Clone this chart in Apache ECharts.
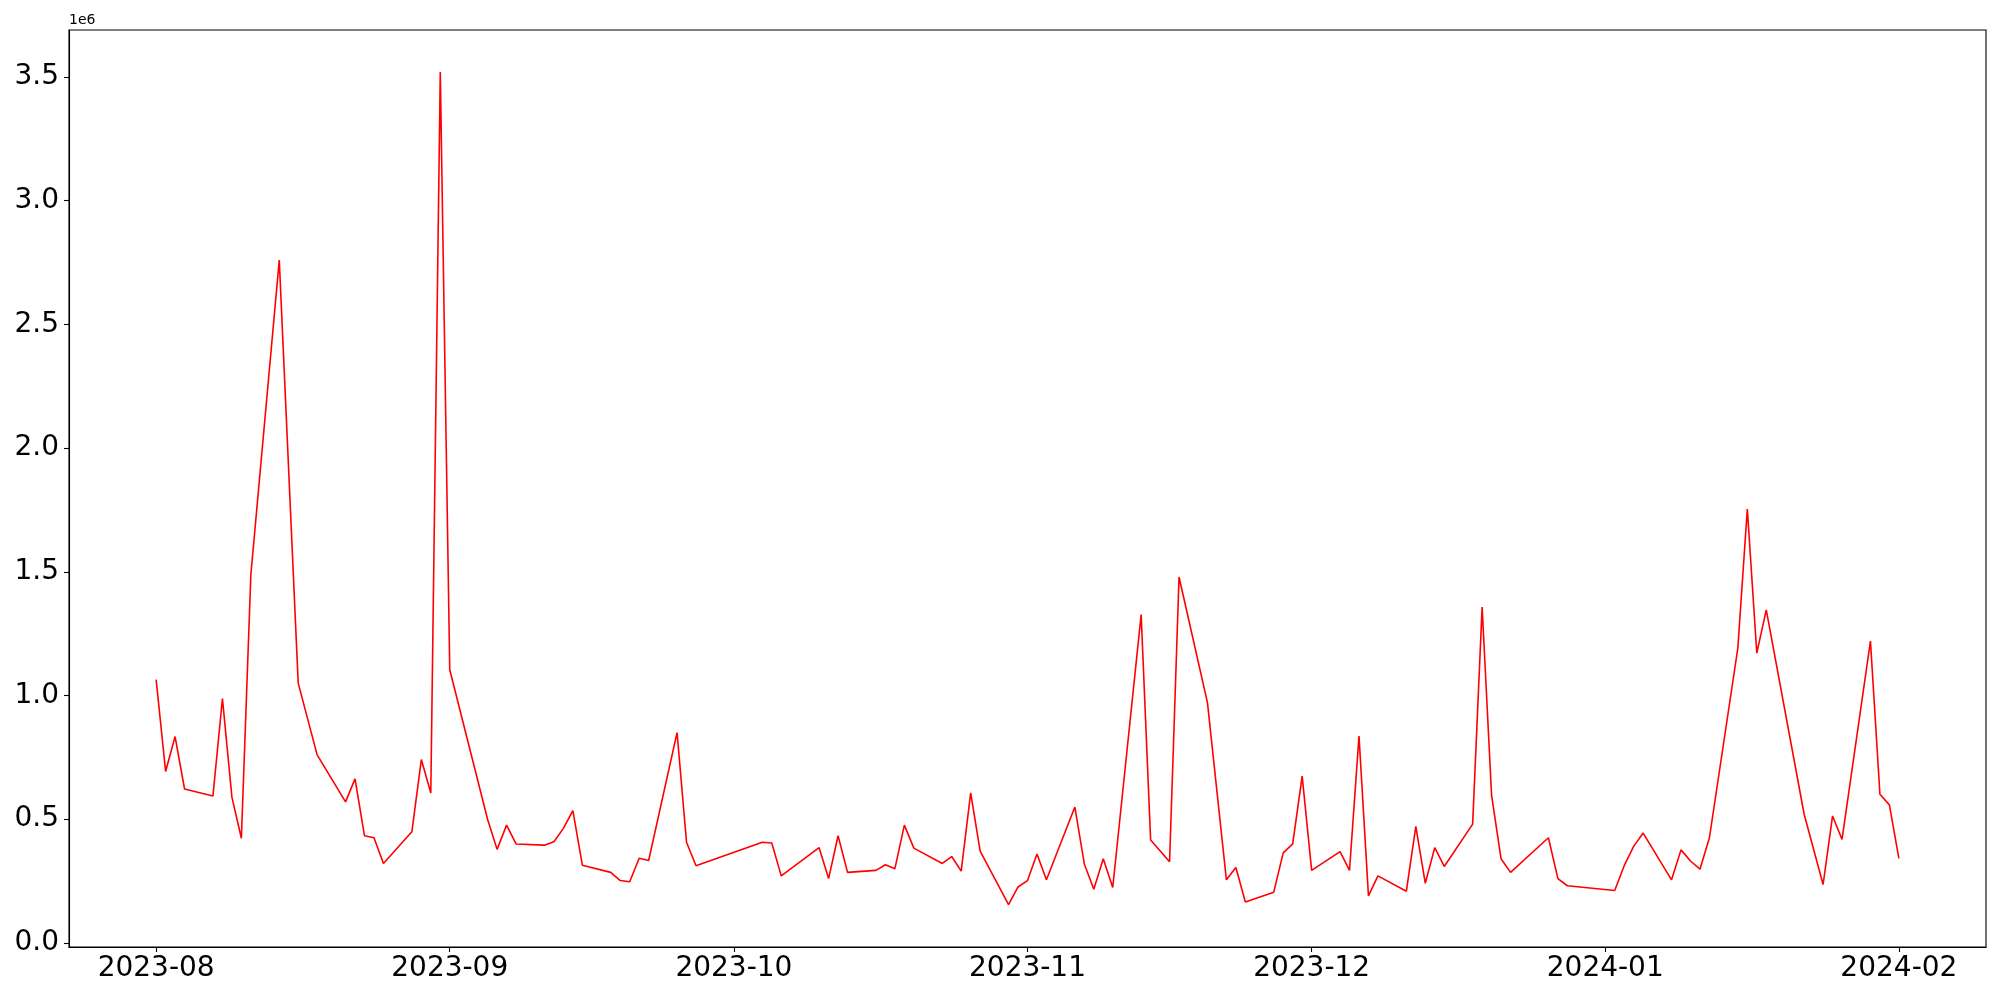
<!DOCTYPE html>
<html>
<head>
<meta charset="utf-8">
<script src="https://cdn.jsdelivr.net/npm/echarts@6/dist/echarts.min.js"></script>
<style>
html,body{margin:0;padding:0;background:#fff;}
#chart{width:2000px;height:1000px;}
</style>
</head>
<body>
<div id="chart"></div>
<script>
const dates = [
  '2023-08-01','2023-08-02','2023-08-03','2023-08-04','2023-08-07','2023-08-08','2023-08-09','2023-08-10','2023-08-11','2023-08-14',
  '2023-08-16','2023-08-18','2023-08-21','2023-08-22','2023-08-23','2023-08-24','2023-08-25','2023-08-28','2023-08-29','2023-08-30',
  '2023-08-31',
  '2023-09-01','2023-09-05','2023-09-06','2023-09-07','2023-09-08','2023-09-11','2023-09-12','2023-09-13','2023-09-14','2023-09-15',
  '2023-09-18','2023-09-19','2023-09-20','2023-09-21','2023-09-22','2023-09-25','2023-09-26','2023-09-27',
  '2023-10-04','2023-10-05','2023-10-06','2023-10-10','2023-10-11','2023-10-12','2023-10-13','2023-10-16','2023-10-17','2023-10-18',
  '2023-10-19','2023-10-20','2023-10-23','2023-10-24','2023-10-25','2023-10-26','2023-10-27','2023-10-30','2023-10-31',
  '2023-11-01','2023-11-02','2023-11-03','2023-11-06','2023-11-07','2023-11-08','2023-11-09','2023-11-10','2023-11-13','2023-11-14',
  '2023-11-16','2023-11-17','2023-11-20','2023-11-22','2023-11-23','2023-11-24','2023-11-27','2023-11-28','2023-11-29','2023-11-30',
  '2023-12-01','2023-12-04','2023-12-05','2023-12-06','2023-12-07','2023-12-08','2023-12-11','2023-12-12','2023-12-13','2023-12-14',
  '2023-12-15','2023-12-18','2023-12-19','2023-12-20','2023-12-21','2023-12-22','2023-12-26','2023-12-27','2023-12-28',
  '2024-01-02','2024-01-03','2024-01-04','2024-01-05','2024-01-08','2024-01-09','2024-01-10','2024-01-11','2024-01-12','2024-01-15',
  '2024-01-16','2024-01-17','2024-01-18','2024-01-22','2024-01-24','2024-01-25','2024-01-26','2024-01-29','2024-01-30','2024-01-31',
  '2024-02-01'
];
const values = [
  1064000, 693000, 834000, 622000, 594000, 988000, 589000, 423000, 1488000, 2760000,
  1050000, 760000, 570000, 663000, 433000, 425000, 321000, 449000, 741000, 606000,
  3520000,
  1104000, 499000, 378000, 476000, 400000, 395000, 409000, 463000, 535000, 314000,
  285000, 252000, 247000, 342000, 333000, 850000, 407000, 312000,
  407000, 404000, 271000, 385000, 260000, 433000, 285000, 293000, 316000, 300000,
  476000, 383000, 321000, 349000, 290000, 606000, 371000, 155000, 226000,
  252000, 359000, 255000, 549000, 319000, 217000, 340000, 224000, 1327000, 416000,
  328000, 1479000, 971000, 255000, 305000, 165000, 205000, 364000, 400000, 674000,
  293000, 369000, 293000, 836000, 190000, 271000, 209000, 471000, 241000, 385000,
  309000, 480000, 1358000, 596000, 340000, 285000, 425000, 260000, 231000,
  212000, 312000, 390000, 444000, 255000, 376000, 331000, 298000, 425000, 1192000,
  1754000, 1171000, 1346000, 520000, 236000, 513000, 418000, 1220000, 601000, 558000,
  342000
];
const xTickDates = ['2023-08-01','2023-09-01','2023-10-01','2023-11-01','2023-12-01','2024-01-01','2024-02-01'];
const xTickLabels = ['2023-08','2023-09','2023-10','2023-11','2023-12','2024-01','2024-02'];
const yTickValues = [0, 500000, 1000000, 1500000, 2000000, 2500000, 3000000, 3500000];
const yTickLabels = ['0.0','0.5','1.0','1.5','2.0','2.5','3.0','3.5'];

function ts(s){ const p = s.split('-').map(Number); return Date.UTC(p[0], p[1]-1, p[2]); }
const DAY = 86400000;
const seriesData = dates.map((d,i)=>[ts(d), values[i]]);
const xTicks = xTickDates.map(ts);
const xLabelMap = {}; xTicks.forEach((t,i)=>{ xLabelMap[t] = xTickLabels[i]; });
const yLabelMap = {}; yTickValues.forEach((v,i)=>{ yLabelMap[v] = yTickLabels[i]; });

const chart = echarts.init(document.getElementById('chart'), null, {renderer:'canvas'});
chart.setOption({
  animation: false,
  backgroundColor: '#fff',
  textStyle: { fontFamily: 'DejaVu Sans' },
  grid: { left: 69, top: 30, right: 14, bottom: 53, show: true, borderColor: '#000', borderWidth: 1.1, backgroundColor: 'transparent' },
  xAxis: {
    type: 'value',
    min: ts(dates[0]) - 9.2*DAY,
    max: ts(dates[dates.length-1]) + 9.2*DAY,
    splitLine: { show: false },
    axisLine: { show: true, onZero: false, lineStyle: { color: '#000', width: 1.1 } },
    axisTick: { show: true, inside: false, length: 5, lineStyle: { color: '#000', width: 1.1 }, customValues: xTicks },
    axisLabel: { show: true, customValues: xTicks, margin: 8, fontSize: 28, color: '#000', fontFamily: 'DejaVu Sans',
      formatter: function(v){ return xLabelMap[v] !== undefined ? xLabelMap[v] : ''; } }
  },
  yAxis: {
    type: 'value',
    min: -16600,
    max: 3690000,
    splitLine: { show: false },
    axisLine: { show: true, onZero: false, lineStyle: { color: '#000', width: 1.1 } },
    axisTick: { show: true, inside: false, length: 5, lineStyle: { color: '#000', width: 1.1 }, customValues: yTickValues },
    axisLabel: { show: true, customValues: yTickValues, margin: 10, fontSize: 28, color: '#000', fontFamily: 'DejaVu Sans',
      formatter: function(v){ return yLabelMap[v] !== undefined ? yLabelMap[v] : ''; } }
  },
  graphic: [
    { type: 'text', left: 69, top: 13, style: { text: '1e6', fontSize: 14, fill: '#000', fontFamily: 'DejaVu Sans' } }
  ],
  series: [{
    type: 'line',
    data: seriesData,
    showSymbol: false,
    symbol: 'none',
    lineStyle: { color: '#ff0000', width: 1.6 },
    itemStyle: { color: '#ff0000' }
  }]
});
</script>
</body>
</html>
